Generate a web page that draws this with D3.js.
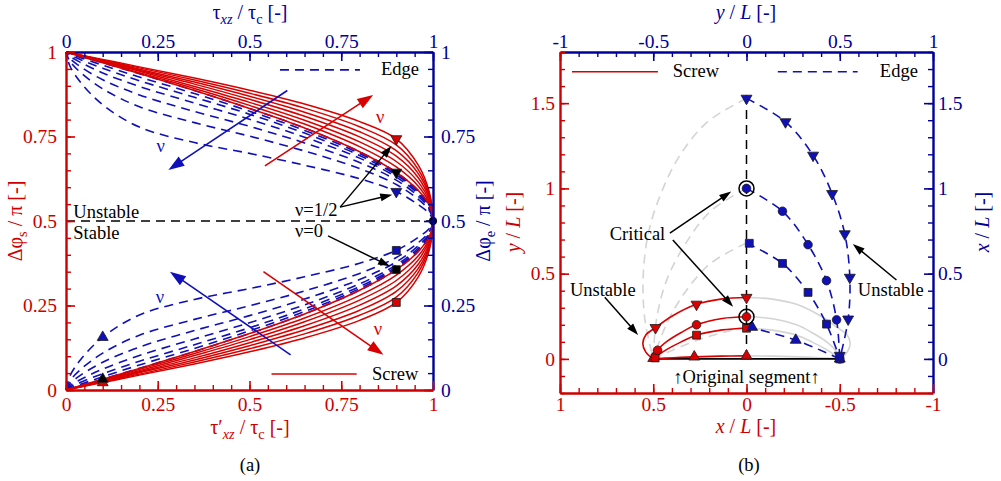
<!DOCTYPE html>
<html><head><meta charset="utf-8">
<script src="https://cdn.jsdelivr.net/npm/d3@7"></script>
<style>
html,body{margin:0;padding:0;background:#fff;}
svg{display:block;}
</style></head><body>
<svg id="chart" width="1001" height="481"></svg>
<script>
// ---------- colours & type ----------
const RED = "#d80000", RED_AX = "#cc0000", BLUE = "#1010b8", BLUE_AX = "#00009a", GREY = "#d4d4d4";
const FONT = '"Liberation Serif","Times New Roman",serif';
const FS = 18.5, FS_TICK = 19.5, FS_TITLE = 20;

// ---------- panel (a): angle change vs. normalised stress ----------
// nu = 0, 1/12, ..., 1/2 (row 0 = isotropic nu = 0)
const tauScrew = [0, 0.1, 0.2, 0.35, 0.5, 0.65, 0.8, 0.9, 0.96, 0.99, 1];
const screwStable = [
  [0, .032, .064, .114, .167, .225, .295, .356, .410, .455, .5],
  [0, .030, .061, .108, .158, .213, .280, .340, .397, .448, .5],
  [0, .029, .057, .102, .149, .202, .266, .324, .385, .442, .5],
  [0, .027, .054, .095, .140, .190, .251, .308, .372, .435, .5],
  [0, .025, .051, .089, .131, .178, .236, .292, .360, .428, .5],
  [0, .024, .047, .083, .122, .166, .221, .275, .348, .422, .5],
  [0, .022, .044, .077, .113, .154, .206, .259, .335, .415, .5]
];
const screwUnstable = [
  [1, .968, .936, .886, .833, .775, .705, .644, .590, .545, .5],
  [1, .970, .939, .892, .842, .787, .720, .660, .603, .552, .5],
  [1, .971, .943, .898, .851, .798, .734, .676, .615, .558, .5],
  [1, .973, .946, .905, .860, .810, .749, .692, .628, .565, .5],
  [1, .975, .949, .911, .869, .822, .764, .708, .640, .572, .5],
  [1, .976, .953, .917, .878, .834, .779, .725, .652, .578, .5],
  [1, .978, .956, .923, .887, .846, .794, .743, .665, .585, .5]
];
const tauEdge = [0, 0.01, 0.04, 0.1, 0.2, 0.35, 0.5, 0.65, 0.8, 0.9, 0.96, 0.99, 1];
const edgeStable = [
  [0, .003, .013, .032, .064, .114, .167, .225, .295, .356, .410, .455, .5],
  [0, .005, .017, .039, .074, .123, .175, .232, .300, .360, .412, .456, .5],
  [0, .008, .023, .048, .085, .134, .184, .240, .306, .364, .415, .458, .5],
  [0, .012, .031, .062, .102, .151, .199, .252, .314, .370, .420, .461, .5],
  [0, .018, .044, .082, .127, .176, .220, .269, .327, .379, .427, .464, .5],
  [0, .026, .061, .109, .162, .209, .249, .293, .345, .392, .436, .469, .5],
  [0, .040, .090, .156, .222, .268, .300, .335, .375, .413, .452, .478, .5]
];
const edgeUnstable = [
  [1, .997, .987, .968, .936, .886, .833, .775, .705, .644, .590, .545, .5],
  [1, .995, .983, .961, .926, .877, .825, .768, .700, .640, .588, .544, .5],
  [1, .992, .977, .952, .915, .866, .816, .760, .694, .636, .585, .542, .5],
  [1, .988, .969, .938, .898, .849, .801, .748, .686, .630, .580, .539, .5],
  [1, .982, .956, .918, .873, .824, .780, .731, .673, .621, .573, .536, .5],
  [1, .974, .939, .891, .838, .791, .751, .707, .655, .608, .564, .531, .5],
  [1, .960, .910, .844, .778, .732, .700, .665, .625, .587, .548, .522, .5]
];
const tauTicks = [0, 0.25, 0.5, 0.75, 1];
const phiTicks = [0, 0.25, 0.5, 0.75, 1];
const markersA = [
  {x: 0.9, y: 0.743, shape: "down",   fill: "red"},
  {x: 0.9, y: 0.644, shape: "down",   fill: "black"},
  {x: 0.9, y: 0.587, shape: "down",   fill: "blue"},
  {x: 0.9, y: 0.413, shape: "square", fill: "blue"},
  {x: 0.9, y: 0.356, shape: "square", fill: "black"},
  {x: 0.9, y: 0.259, shape: "square", fill: "red"},
  {x: 0.1, y: 0.156, shape: "up",     fill: "blue"},
  {x: 0.1, y: 0.022, shape: "up",     fill: "red"},
  {x: 0.1, y: 0.032, shape: "up",     fill: "black"},
  {x: 1.0, y: 0.5,   shape: "dot",    fill: "black"}
];

// ---------- panel (b): bowed segment shapes ----------
const xTicksB = [1, 0.5, 0, -0.5, -1];      // x/L, bottom
const yTopTicksB = [-1, -0.5, 0, 0.5, 1];   // y/L, top
const yTicksB = [0, 0.5, 1, 1.5];
// screw segment (solid red), x/L and y/L
const screwShapes = [
  {shape: "up",     pts: [[0.5,0],[0.39,0.007],[0.28,0.012],[0.14,0.016],[0,0.018]],
                    marks: [[0.5,0.003],[0.28,0.012],[0,0.018]]},
  {shape: "square", pts: [[0.5,0],[0.47,0.025],[0.42,0.06],[0.35,0.1],[0.268,0.139],[0.13,0.17],[0,0.18]],
                    marks: [[0.49,0.006],[0.268,0.139],[0,0.18]]},
  {shape: "circle", pts: [[0.5,0],[0.488,0.025],[0.477,0.051],[0.43,0.1],[0.35,0.155],[0.268,0.2],[0.13,0.237],[0,0.247]],
                    marks: [[0.477,0.051],[0.268,0.2],[0,0.247]]},
  {shape: "down",   pts: [[0.5,0],[0.54,0.04],[0.556,0.09],[0.54,0.14],[0.488,0.183],[0.4,0.25],[0.268,0.32],[0.13,0.352],[0,0.36]],
                    marks: [[0.488,0.183],[0.268,0.32],[0,0.36]]}
];
// the symmetric other half of the screw shapes (light grey)
const screwMirror = [
  [[-0.5,0],[-0.39,0.007],[-0.28,0.012],[-0.14,0.016],[0,0.018]],
  [[-0.5,0],[-0.47,0.025],[-0.42,0.06],[-0.35,0.1],[-0.268,0.139],[-0.13,0.17],[0,0.18]],
  [[-0.5,0],[-0.488,0.025],[-0.477,0.051],[-0.43,0.1],[-0.35,0.155],[-0.268,0.2],[-0.13,0.237],[0,0.247]],
  [[-0.5,0],[-0.54,0.04],[-0.556,0.09],[-0.54,0.14],[-0.488,0.183],[-0.4,0.25],[-0.268,0.32],[-0.13,0.352],[0,0.36]]
];
// edge segment (dashed blue)
const edgeShapes = [
  {shape: "up",     pts: [[0,0.19],[-0.264,0.11],[-0.5,0]],
                    marks: [[-0.03,0.186],[-0.264,0.11],[-0.5,0]]},
  {shape: "square", pts: [[0,0.68],[-0.193,0.56],[-0.33,0.39],[-0.429,0.204],[-0.5,0]],
                    marks: [[-0.015,0.678],[-0.193,0.56],[-0.33,0.39],[-0.429,0.204],[-0.5,0]]},
  {shape: "circle", pts: [[0,1.0],[-0.193,0.866],[-0.33,0.67],[-0.429,0.459],[-0.483,0.229],[-0.5,0]],
                    marks: [[0,1.0],[-0.193,0.866],[-0.33,0.67],[-0.429,0.459],[-0.483,0.229],[-0.5,0]]},
  {shape: "down",   pts: [[0,1.528],[-0.209,1.39],[-0.357,1.194],[-0.459,0.969],[-0.527,0.733],[-0.554,0.478],[-0.545,0.233],[-0.5,0]],
                    marks: [[0,1.528],[-0.209,1.39],[-0.357,1.194],[-0.459,0.969],[-0.527,0.733],[-0.554,0.478],[-0.545,0.233],[-0.5,0.02]]}
];
const edgeMirror = [
  [[0,0.19],[0.264,0.11],[0.5,0]],
  [[0,0.68],[0.193,0.56],[0.33,0.39],[0.429,0.204],[0.5,0]],
  [[0,1.0],[0.193,0.866],[0.33,0.67],[0.429,0.459],[0.483,0.229],[0.5,0]],
  [[0,1.528],[0.209,1.39],[0.357,1.194],[0.459,0.969],[0.527,0.733],[0.554,0.478],[0.545,0.233],[0.5,0]]
];
const criticalPts = [[0, 1.0], [0, 0.247]];
const originalSegment = [[0.5, 0], [-0.5, 0]];
const symmetryAxis = [[0, 0], [0, 1.56]];

// ---------- drawing ----------
const svg = d3.select("#chart");
const xA = d3.scaleLinear().domain([0, 1]).range([66, 433]);
const yA = d3.scaleLinear().domain([0, 1]).range([390, 52]);
const xB = d3.scaleLinear().domain([1, -1]).range([560, 933]);
const xTopB = d3.scaleLinear().domain([-1, 1]).range([560, 933]);
const yB = d3.scaleLinear().domain([-0.2, 1.8]).range([393, 52]);

const FILL = {red: RED, blue: BLUE, black: "#000"};

function axis(scale, orient, tr, major, minor, color, pad, majorLen, minorLen) {
  const mk = {bottom: d3.axisBottom, top: d3.axisTop, left: d3.axisLeft, right: d3.axisRight}[orient];
  const gm = svg.append("g").attr("transform", tr)
    .call(mk(scale).tickValues(minor).tickSize(-minorLen).tickSizeOuter(0).tickFormat(""));
  gm.select(".domain").remove();
  gm.selectAll("line").attr("stroke", color).attr("stroke-width", 1.4);
  const g = svg.append("g").attr("transform", tr)
    .call(mk(scale).tickValues(major).tickSize(-majorLen).tickSizeOuter(0).tickPadding(pad).tickFormat(d => String(d)));
  g.attr("font-family", null).attr("font-size", null);
  g.select(".domain").attr("stroke", color).attr("stroke-width", 2.4);
  g.selectAll(".tick line").attr("stroke", color).attr("stroke-width", 1.6);
  g.selectAll(".tick text").attr("fill", color).style("font-family", FONT).style("font-size", FS_TICK + "px");
  return g;
}
const steps = (a, b, s) => d3.range(Math.round((b - a) / s) + 1).map(i => +(a + i * s).toFixed(4));

function rich(g, x, y, parts, color, size, anchor, rot) {
  const t = g.append("text").attr("fill", color).style("font-family", FONT).style("font-size", size + "px")
    .attr("text-anchor", anchor || "middle");
  if (rot) t.attr("transform", `translate(${x},${y}) rotate(${rot})`);
  else t.attr("x", x).attr("y", y);
  let shifted = false;
  parts.forEach(p => {
    const s = t.append("tspan").text(p.t);
    if (p.i) s.style("font-style", "italic");
    if (p.sub && !shifted) { s.attr("dy", 5).style("font-size", (size * 0.72) + "px"); shifted = true; }
    else if (!p.sub && shifted) { s.attr("dy", -5); shifted = false; }
    else if (p.sub) s.style("font-size", (size * 0.72) + "px");
  });
  return t;
}
function label(g, x, y, str, color, anchor) {
  return g.append("text").attr("x", x).attr("y", y).text(str).attr("fill", color)
    .style("font-family", FONT).style("font-size", FS + "px").attr("text-anchor", anchor || "start");
}
function marker(g, x, y, shape, fill, size) {
  if (shape === "dot") {
    g.append("circle").attr("cx", x).attr("cy", y).attr("r", 4).attr("fill", fill);
    return;
  }
  const type = shape === "square" ? d3.symbolSquare : shape === "circle" ? d3.symbolCircle : d3.symbolTriangle;
  const sz = size || (shape === "square" ? 62 : shape === "circle" ? 58 : 52);
  let tr = `translate(${x},${y})`;
  if (shape === "down") tr += " rotate(180)";
  g.append("path").attr("d", d3.symbol().type(type).size(sz)()).attr("transform", tr)
    .attr("fill", fill).attr("stroke", "#1a1a1a").attr("stroke-width", 0.8);
}
function arrow(g, p1, p2, color, len, hw, sw) {
  const [x1, y1] = p1, [x2, y2] = p2;
  const dx = x2 - x1, dy = y2 - y1, L = Math.hypot(dx, dy), ux = dx / L, uy = dy / L;
  const bx = x2 - ux * len, by = y2 - uy * len;
  g.append("line").attr("x1", x1).attr("y1", y1).attr("x2", bx + ux * 2).attr("y2", by + uy * 2)
    .attr("stroke", color).attr("stroke-width", sw);
  g.append("path").attr("d", `M${x2},${y2}L${bx - uy * hw},${by + ux * hw}L${bx + uy * hw},${by - ux * hw}Z`)
    .attr("fill", color);
}

// ===== panel (a) =====
const gA = svg.append("g");
const lineA = d3.line().x(d => xA(d[0])).y(d => yA(d[1])).curve(d3.curveCatmullRom.alpha(0.5));
function loop(tau, lo, hi) {
  const pts = tau.map((t, i) => [t, lo[i]]);
  for (let i = tau.length - 2; i >= 0; i--) pts.push([tau[i], hi[i]]);
  return pts;
}
edgeStable.forEach((row, k) => {
  gA.append("path").attr("d", lineA(loop(tauEdge, row, edgeUnstable[k])))
    .attr("fill", "none").attr("stroke", BLUE).attr("stroke-width", 1.6).attr("stroke-dasharray", "9,6");
});
screwStable.forEach((row, k) => {
  gA.append("path").attr("d", lineA(loop(tauScrew, row, screwUnstable[k])))
    .attr("fill", "none").attr("stroke", RED).attr("stroke-width", 1.5);
});
// stability boundary
gA.append("line").attr("x1", xA(0)).attr("x2", xA(1)).attr("y1", yA(0.5)).attr("y2", yA(0.5))
  .attr("stroke", "#000").attr("stroke-width", 1.5).attr("stroke-dasharray", "9,6");

// axes (a)
axis(xA, "top", `translate(0,${yA(1)})`, tauTicks, steps(0, 1, 0.05), BLUE_AX, 4, 9, 5);
axis(yA, "right", `translate(${xA(1)},0)`, phiTicks, steps(0, 1, 0.05), BLUE_AX, 8, 9, 5);
axis(xA, "bottom", `translate(0,${yA(0)})`, tauTicks, steps(0, 1, 0.05), RED_AX, 7, 9, 5);
axis(yA, "left", `translate(${xA(0)},0)`, phiTicks, steps(0, 1, 0.05), RED_AX, 9, 9, 5);

markersA.forEach(m => marker(gA, xA(m.x), yA(m.y), m.shape, FILL[m.fill]));

// annotations (a)
const P = (x, y) => [xA(x), yA(y)];
arrow(gA, P(0.747, 0.541), P(0.887, 0.722), "#000", 12, 4, 1.5);
arrow(gA, P(0.747, 0.541), P(0.889, 0.578), "#000", 12, 4, 1.5);
arrow(gA, P(0.714, 0.456), P(0.883, 0.366), "#000", 12, 4, 1.5);
arrow(gA, P(0.603, 0.886), P(0.279, 0.651), BLUE, 16, 5.5, 1.6);
arrow(gA, P(0.542, 0.663), P(0.837, 0.873), RED, 16, 5.5, 1.6);
arrow(gA, P(0.612, 0.104), P(0.283, 0.350), BLUE, 16, 5.5, 1.6);
arrow(gA, P(0.538, 0.350), P(0.865, 0.104), RED, 16, 5.5, 1.6);
label(gA, xA(0.258), yA(0.704), "ν", BLUE, "middle");
label(gA, xA(0.856), yA(0.790), "ν", RED, "middle");
label(gA, xA(0.256), yA(0.257), "ν", BLUE, "middle");
label(gA, xA(0.850), yA(0.163), "ν", RED, "middle");
label(gA, xA(0.02), yA(0.509), "Unstable", "#000");
label(gA, xA(0.02), yA(0.447), "Stable", "#000");
label(gA, xA(0.624), yA(0.514), "ν=1/2", "#000");
label(gA, xA(0.624), yA(0.453), "ν=0", "#000");
gA.append("line").attr("x1", xA(0.583)).attr("x2", xA(0.801)).attr("y1", yA(0.947)).attr("y2", yA(0.947))
  .attr("stroke", BLUE).attr("stroke-width", 1.6).attr("stroke-dasharray", "9,6");
label(gA, xA(0.858), yA(0.932), "Edge", "#000");
gA.append("line").attr("x1", xA(0.56)).attr("x2", xA(0.792)).attr("y1", yA(0.047)).attr("y2", yA(0.047))
  .attr("stroke", RED).attr("stroke-width", 1.5);
label(gA, xA(0.834), yA(0.030), "Screw", "#000");

// titles (a)
rich(svg, 250, 19, [{t: "τ"}, {t: "xz", sub: 1, i: 1}, {t: " / τ"}, {t: "c", sub: 1}, {t: " [-]"}], BLUE_AX, FS_TITLE);
rich(svg, 250, 434, [{t: "τ′"}, {t: "xz", sub: 1, i: 1}, {t: " / τ"}, {t: "c", sub: 1}, {t: " [-]"}], RED_AX, FS_TITLE);
rich(svg, 22, 221, [{t: "Δφ"}, {t: "s", sub: 1}, {t: " / π [-]"}], RED_AX, FS_TITLE, "middle", -90);
rich(svg, 490, 221, [{t: "Δφ"}, {t: "e", sub: 1}, {t: " / π [-]"}], BLUE_AX, FS_TITLE, "middle", -90);
label(svg, 250, 471, "(a)", "#000", "middle");

// ===== panel (b) =====
const gB = svg.append("g");
const lineB = d3.line().x(d => xB(d[0])).y(d => yB(d[1])).curve(d3.curveCatmullRom.alpha(0.5));
edgeMirror.forEach(pts => gB.append("path").attr("d", lineB(pts)).attr("fill", "none")
  .attr("stroke", GREY).attr("stroke-width", 1.6).attr("stroke-dasharray", "9,6"));
screwMirror.forEach(pts => gB.append("path").attr("d", lineB(pts)).attr("fill", "none")
  .attr("stroke", GREY).attr("stroke-width", 1.6));
gB.append("path").attr("d", d3.line().x(d => xB(d[0])).y(d => yB(d[1]))(symmetryAxis))
  .attr("stroke", "#000").attr("stroke-width", 1.5).attr("stroke-dasharray", "9,6").attr("fill", "none");
gB.append("path").attr("d", d3.line().x(d => xB(d[0])).y(d => yB(d[1]))(originalSegment))
  .attr("stroke", "#000").attr("stroke-width", 1.8).attr("fill", "none");
screwShapes.forEach(s => gB.append("path").attr("d", lineB(s.pts)).attr("fill", "none")
  .attr("stroke", RED).attr("stroke-width", 1.6));
edgeShapes.forEach(s => gB.append("path").attr("d", lineB(s.pts)).attr("fill", "none")
  .attr("stroke", BLUE).attr("stroke-width", 1.6).attr("stroke-dasharray", "9,6"));

// axes (b)
axis(xTopB, "top", `translate(0,${yB(1.8)})`, yTopTicksB, steps(-1, 1, 0.1), BLUE_AX, 4, 9, 5);
axis(yB, "right", `translate(${xB(-1)},0)`, yTicksB, steps(-0.2, 1.8, 0.1), BLUE_AX, 5, 9, 5);
axis(xB, "bottom", `translate(0,${yB(-0.2)})`, xTicksB, steps(-1, 1, 0.1), RED_AX, 4, 9, 5);
axis(yB, "left", `translate(${xB(1)},0)`, yTicksB, steps(-0.2, 1.8, 0.1), RED_AX, 5, 9, 5);

screwShapes.forEach(s => s.marks.forEach(m => marker(gB, xB(m[0]), yB(m[1]), s.shape, RED)));
edgeShapes.forEach(s => s.marks.forEach(m => marker(gB, xB(m[0]), yB(m[1]), s.shape, BLUE)));
criticalPts.forEach(c => gB.append("circle").attr("cx", xB(c[0])).attr("cy", yB(c[1])).attr("r", 7.5)
  .attr("fill", "none").attr("stroke", "#000").attr("stroke-width", 1.5));

const Q = (x, y) => [xB(x), yB(y)];
label(gB, xB(0.733), yB(0.697), "Critical", "#000");
arrow(gB, Q(0.411, 0.737), Q(0.082, 0.982), "#000", 12, 4, 1.5);
arrow(gB, Q(0.395, 0.697), Q(0.072, 0.306), "#000", 12, 4, 1.5);
label(gB, xB(0.947), yB(0.369), "Unstable", "#000");
arrow(gB, Q(0.760, 0.362), Q(0.581, 0.140), "#000", 12, 4, 1.5);
label(gB, xB(-0.597), yB(0.369), "Unstable", "#000");
arrow(gB, Q(-0.804, 0.463), Q(-0.570, 0.674), "#000", 12, 4, 1.5);
label(gB, xB(0), yB(-0.141), "↑Original segment↑", "#000", "middle");
gB.append("line").attr("x1", xB(0.936)).attr("x2", xB(0.475)).attr("y1", yB(1.684)).attr("y2", yB(1.684))
  .attr("stroke", RED).attr("stroke-width", 1.6);
label(gB, xB(0.395), yB(1.653), "Screw", "#000");
gB.append("line").attr("x1", xB(-0.168)).attr("x2", xB(-0.596)).attr("y1", yB(1.684)).attr("y2", yB(1.684))
  .attr("stroke", BLUE).attr("stroke-width", 1.6).attr("stroke-dasharray", "9,6");
label(gB, xB(-0.715), yB(1.653), "Edge", "#000");

// titles (b)
rich(svg, 746, 19, [{t: "y", i: 1}, {t: " / "}, {t: "L", i: 1}, {t: " [-]"}], BLUE_AX, FS_TITLE);
rich(svg, 746, 433, [{t: "x", i: 1}, {t: " / "}, {t: "L", i: 1}, {t: " [-]"}], RED_AX, FS_TITLE);
rich(svg, 520, 222, [{t: "y", i: 1}, {t: " / "}, {t: "L", i: 1}, {t: " [-]"}], RED_AX, FS_TITLE, "middle", -90);
rich(svg, 989, 222, [{t: "x", i: 1}, {t: " / "}, {t: "L", i: 1}, {t: " [-]"}], BLUE_AX, FS_TITLE, "middle", -90);
label(svg, 749, 471, "(b)", "#000", "middle");
</script></body></html>
